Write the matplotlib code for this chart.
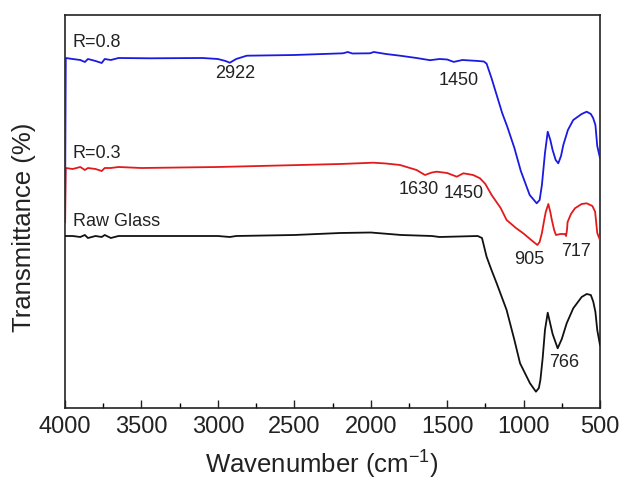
import matplotlib
matplotlib.use("Agg")
import matplotlib.pyplot as plt
from matplotlib.ticker import MultipleLocator

plt.rcParams['font.family'] = ['Liberation Sans', 'DejaVu Sans']
plt.rcParams['mathtext.fontset'] = 'custom'
plt.rcParams['mathtext.rm'] = 'Liberation Sans'
plt.rcParams['mathtext.it'] = 'Liberation Sans:italic'
plt.rcParams['mathtext.bf'] = 'Liberation Sans:bold'

# ---- data (wavenumber, transmittance in arbitrary offset units) ----
blue_wn = [4000, 3995, 3950, 3900, 3870, 3850, 3800, 3760, 3740, 3700, 3650, 3444, 3100, 3000,
           2950, 2922, 2880, 2811, 2500, 2181, 2150, 2120, 2005, 1980, 1900, 1808, 1700, 1612,
           1550, 1500, 1457, 1400, 1305, 1260, 1242, 1210, 1172, 1140, 1106, 1060, 1018, 960,
           914, 895, 880, 860, 842, 825, 810, 790, 773, 755, 740, 710, 675, 620, 587, 560,
           545, 530, 518, 500]
blue_t = [186, 350, 349, 348, 346, 349, 347, 345, 349, 348, 350, 349.7, 350, 349,
          347, 345.3, 349, 352.3, 353, 354.7, 356, 354.5, 354.7, 356, 354, 352.3, 350, 347.8,
          349, 348.5, 346.1, 348, 347.1, 346.5, 344.4, 330, 311, 295, 281, 260, 237, 213,
          204.7, 208, 223, 255, 276.3, 268, 258, 248, 244.7, 252, 263, 278, 288, 294, 296.3, 294,
          290, 283, 262, 250]

red_wn = [4000, 3995, 3950, 3900, 3870, 3850, 3800, 3760, 3740, 3700, 3650, 3500, 3000, 2463,
          2200, 1983, 1900, 1808, 1700, 1645, 1600, 1568, 1500, 1437, 1394, 1330, 1285, 1250,
          1209, 1150, 1111, 1050, 1002, 950, 910, 895, 880, 865, 855, 838, 825, 815, 800, 788,
          760, 730, 722, 716, 712, 690, 664, 620, 587, 550, 532, 518, 500]
red_t = [174, 240, 239, 241, 238, 240, 239, 237, 240, 240, 241, 240, 241, 243,
         244, 245.3, 244.5, 243, 238, 233, 235.5, 236.3, 235, 231.3, 234.7, 233, 229.7, 224,
         213, 200, 188, 180, 174.7, 168, 163, 166, 175, 188, 196, 204, 196, 188, 178, 173,
         174, 174, 172, 178, 186, 194, 199.7, 204, 204.7, 202, 196.3, 175, 168]

black_wn = [4000, 3950, 3900, 3870, 3850, 3800, 3760, 3740, 3700, 3650, 3500, 3000, 2922, 2880,
            2500, 2200, 2000, 1800, 1600, 1550, 1300, 1272, 1242, 1210, 1176, 1111, 1060, 1023,
            958, 919, 900, 890, 875, 860, 842, 825, 810, 777, 750, 718, 675, 620, 587, 560,
            544, 530, 518, 500]
black_t = [172, 172, 171, 173, 170, 172, 171, 173, 170, 172, 172, 172, 171, 172,
           173, 175, 175.5, 173, 172, 171, 172, 170, 151.3, 138, 124.7, 98, 68, 44.7,
           24.7, 16.3, 20, 28, 50, 78, 95.3, 84, 74, 59.7, 69, 84.7, 99.7, 111, 114, 113,
           106.3, 96, 78, 63]

series_labels = ['R=0.8', 'R=0.3', 'Raw Glass']
series_label_pos = [(3950, 365.3), (3950, 255), (3950, 186.3)]

peak_labels = ['2922', '1450', '1630', '1450', '905', '717', '766']
peak_pos = [(2888, 334.7), (1424, 327.7), (1689, 218), (1394, 214.7),
            (963, 148), (659, 156.3), (736, 45.3)]

x_ticks = [4000, 3500, 3000, 2500, 2000, 1500, 1000, 500]

# ---- figure ----
fig = plt.figure(figsize=(6.2, 4.82), dpi=100)
ax = fig.add_axes([65/620, 74/482, 535/620, 393/482])

ax.plot(red_wn, red_t, color='#e31a1c', lw=1.3, zorder=3)
ax.plot(blue_wn, blue_t, color='#1a1ae0', lw=1.3, zorder=3)
ax.plot(black_wn, black_t, color='#111111', lw=1.3, zorder=3)

ax.set_xlim(4000, 500)
ax.set_ylim(0, 393)
ax.set_xticks(x_ticks)
ax.set_xticklabels([str(t) for t in x_ticks])
ax.xaxis.set_minor_locator(MultipleLocator(250))
ax.set_yticks([])
ax.tick_params(axis='x', which='major', direction='in', length=6, width=1,
               labelsize=17, pad=6, colors='#222222')
ax.tick_params(axis='x', which='minor', direction='in', length=3.5, width=1)
for s in ax.spines.values():
    s.set_linewidth(1.2)
    s.set_color('#222222')

for lab, (x, y) in zip(series_labels, series_label_pos):
    ax.text(x, y, lab, fontsize=13, ha='left', va='center', color='#222222')
for lab, (x, y) in zip(peak_labels, peak_pos):
    ax.text(x, y, lab, fontsize=13, ha='center', va='center', color='#222222')

fig.text(322/620, 1 - 465/482, 'Wavenumber (cm$^{\\mathregular{-1}}$)', fontsize=18.5,
         ha='center', va='center', color='#222222')
fig.text(24/620, 1 - 227/482, 'Transmittance (%)', fontsize=18.5, rotation=90,
         ha='center', va='center', color='#222222')

fig.savefig('out.png', dpi=100)
